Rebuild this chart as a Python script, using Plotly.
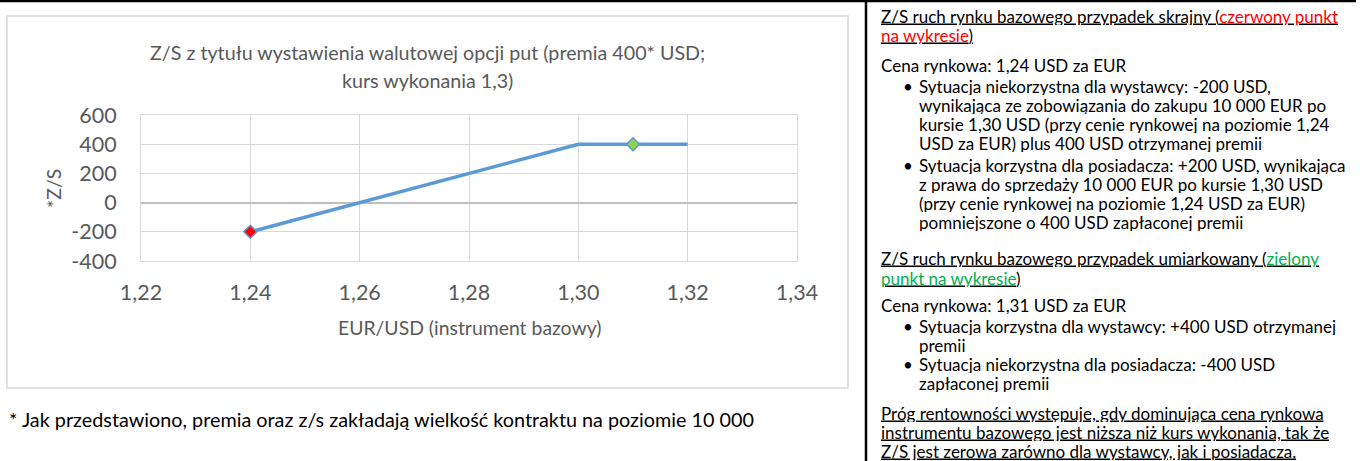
import plotly.graph_objects as go

W, H = 1362, 461

# ---- data ----
rate = [1.24, 1.30, 1.32]          # EUR/USD
pl = [-200, 400, 400]              # Z/S (USD)
red_x = [1.24]
red_y = [-200]
green_x = [1.31]
green_y = [400]
x_tickvals = [1.22, 1.24, 1.26, 1.28, 1.30, 1.32, 1.34]
x_ticktext = ["1,22", "1,24", "1,26", "1,28", "1,30", "1,32", "1,34"]
y_tickvals = [-400, -200, 0, 200, 400, 600]
y_ticktext = ["-400", "-200", "0", "200", "400", "600"]

title_l1 = "Z/S z tytułu wystawienia walutowej opcji put (premia 400* USD;"
title_l2 = "kurs wykonania 1,3)"
x_title = "EUR/USD (instrument bazowy)"
y_title = "*Z/S"
footnote = "* Jak przedstawiono, premia oraz z/s zakładają wielkość kontraktu na poziomie 10 000"

RED = "#FF0000"
GREEN = "#00B050"
right_lines = [
    # (indent level, pixel y, text)
    (0, 16, "<u>Z/S ruch rynku bazowego przypadek skrajny (<span style='color:%s'>czerwony punkt</span></u>" % RED),
    (0, 35, "<u><span style='color:%s'>na wykresie</span>)</u>" % RED),
    (0, 65, "Cena rynkowa: 1,24 USD za EUR"),
    (2, 86, "Sytuacja niekorzystna dla wystawcy: -200 USD,"),
    (1, 105.5, "wynikająca ze zobowiązania do zakupu 10 000 EUR po"),
    (1, 124, "kursie 1,30 USD (przy cenie rynkowej na poziomie 1,24"),
    (1, 143, "USD za EUR) plus 400 USD otrzymanej premii"),
    (2, 165, "Sytuacja korzystna dla posiadacza: +200 USD, wynikająca"),
    (1, 184, "z prawa do sprzedaży 10 000 EUR po kursie 1,30 USD"),
    (1, 203, "(przy cenie rynkowej na poziomie 1,24 USD za EUR)"),
    (1, 222, "pomniejszone o 400 USD zapłaconej premii"),
    (0, 258, "<u>Z/S ruch rynku bazowego przypadek umiarkowany (<span style='color:%s'>zielony</span></u>" % GREEN),
    (0, 278, "<u><span style='color:%s'>punkt na wykresie</span>)</u>" % GREEN),
    (0, 305, "Cena rynkowa: 1,31 USD za EUR"),
    (2, 326, "Sytuacja korzystna dla wystawcy: +400 USD otrzymanej"),
    (1, 344.5, "premii"),
    (2, 363.5, "Sytuacja niekorzystna dla posiadacza: -400 USD"),
    (1, 382.5, "zapłaconej premii"),
    (0, 412.5, "<u>Próg rentowności występuje, gdy dominująca cena rynkowa</u>"),
    (0, 431.5, "<u>instrumentu bazowego jest niższa niż kurs wykonania, tak że</u>"),
    (0, 450.5, "<u>Z/S jest zerowa zarówno dla wystawcy, jak i posiadacza.</u>"),
]

FONT = "Lato, 'Open Sans', sans-serif"
GRAY = "#595959"
BLUE = "#5B9BD5"
RFS = 17  # right panel font size


def px(x):
    return x / W


def py(y):
    return 1 - y / H


fig = go.Figure()
fig.add_trace(go.Scatter(x=rate, y=pl, mode="lines",
                         line=dict(color=BLUE, width=3.5), hoverinfo="skip"))
fig.add_trace(go.Scatter(x=red_x, y=red_y, mode="markers",
                         marker=dict(symbol="diamond", size=10, color=RED,
                                     line=dict(color=BLUE, width=1.5))))
fig.add_trace(go.Scatter(x=green_x, y=green_y, mode="markers",
                         marker=dict(symbol="diamond", size=10, color="#92D050",
                                     line=dict(color=BLUE, width=1.5))))

annotations = []


def ann(x, y, text, size, color="#000000", xanchor="left", textangle=0, height=None):
    a = dict(xref="paper", yref="paper", x=px(x), y=py(y), text=text,
             showarrow=False, xanchor=xanchor, yanchor="middle",
             textangle=textangle, borderpad=0,
             font=dict(family=FONT, size=size, color=color))
    if height is not None:
        a["height"] = height
    annotations.append(a)


ann(427, 52, title_l1, 19.7, GRAY, "center")
ann(427, 80, title_l2, 19.7, GRAY, "center")
ann(469, 327, x_title, 19.4, GRAY, "center")
ann(53, 188, y_title, 19.4, GRAY, "center", textangle=-90)
ann(8, 419, footnote, 19.8, "#000000", "left")

for level, y, text in right_lines:
    if level == 0:
        ann(880, y, text, RFS, height=18)
    elif level == 1:
        ann(918, y, text, RFS, height=18)
    else:
        ann(902, y, "•", RFS, height=18)
        ann(918, y, text, RFS, height=18)

shapes = [
    # chart box
    dict(type="rect", xref="paper", yref="paper", x0=px(7), x1=px(848), y0=py(388), y1=py(16),
         line=dict(color="#D9D9D9", width=1.5)),
    # top black border
    dict(type="line", xref="paper", yref="paper", x0=0, x1=px(1356), y0=py(1), y1=py(1),
         line=dict(color="#000000", width=2.5)),
    # vertical separator
    dict(type="line", xref="paper", yref="paper", x0=px(866), x1=px(866), y0=0, y1=1,
         line=dict(color="#000000", width=2.5)),
]

fig.update_layout(
    width=W, height=H, margin=dict(l=0, r=0, t=0, b=0, autoexpand=False),
    paper_bgcolor="white", plot_bgcolor="white", showlegend=False,
    annotations=annotations, shapes=shapes,
    xaxis=dict(domain=[px(141), px(797)], range=[1.22, 1.34],
               tickvals=x_tickvals, ticktext=x_ticktext,
               showgrid=True, gridcolor="#D9D9D9", gridwidth=1,
               showline=True, linecolor="#D9D9D9", mirror=True, zeroline=False,
               ticks="outside", ticklen=12, tickcolor="rgba(0,0,0,0)",
               tickfont=dict(family=FONT, size=21.5, color=GRAY)),
    yaxis=dict(domain=[py(261), py(115)], range=[-400, 600],
               tickvals=y_tickvals, ticktext=y_ticktext,
               showgrid=True, gridcolor="#D9D9D9", gridwidth=1,
               showline=True, linecolor="#D9D9D9", mirror=True,
               zeroline=True, zerolinecolor="#BFBFBF", zerolinewidth=1.5,
               ticks="outside", ticklen=19, tickcolor="rgba(0,0,0,0)",
               tickfont=dict(family=FONT, size=21.5, color=GRAY)),
)

fig.write_html("out.html", config={"displayModeBar": False},
               post_script="document.body.style.margin='0';document.body.style.overflow='hidden';")
